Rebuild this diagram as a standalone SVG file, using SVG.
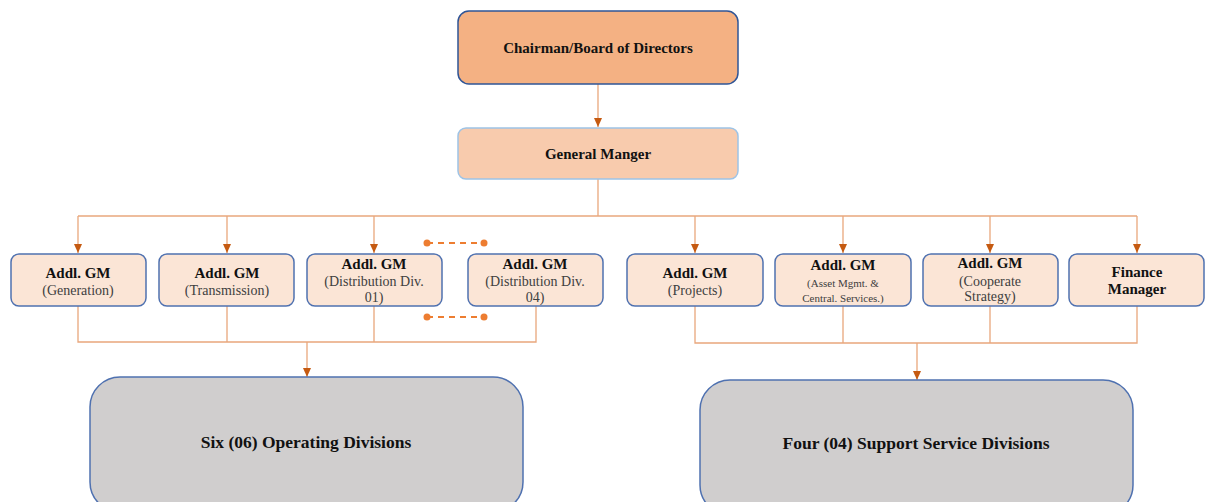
<svg xmlns="http://www.w3.org/2000/svg" width="1205" height="502" viewBox="0 0 1205 502">
<defs>
<marker id="arr" markerWidth="10" markerHeight="8" refX="9" refY="4" orient="auto" markerUnits="userSpaceOnUse">
<path d="M0,0 L9,4 L0,8 z" fill="#C55A11"/>
</marker>
<marker id="dot" markerWidth="8" markerHeight="8" refX="4" refY="4" markerUnits="userSpaceOnUse">
<circle cx="4" cy="4" r="3.5" fill="#ED7D31"/>
</marker>
<style>
.lvl rect{fill:#FBE5D6;stroke:#4F71B0;stroke-width:1.5}
.big rect{fill:#D0CECE;stroke:#4F71B0;stroke-width:1.5}
text{font-family:"Liberation Serif","Times New Roman",serif;text-anchor:middle}
.b{font-weight:bold;fill:#111}
.s{fill:#404040;font-size:14px}
.s.sm{font-size:11px}
.c{fill:none;stroke:#E9A77C;stroke-width:1.3}
.a{fill:none;stroke:#E9A77C;stroke-width:1.3;marker-end:url(#arr)}
.d{fill:none;stroke:#ED7D31;stroke-width:2;stroke-dasharray:6,5;marker-start:url(#dot);marker-end:url(#dot)}
</style>
</defs>
<rect width="1205" height="502" fill="#fff"/>
<g id="connectors">
<line class="a" x1="598" y1="84" x2="598" y2="127"/>
<line class="c" x1="598" y1="179" x2="598" y2="216"/>
<line class="c" x1="78" y1="216" x2="1137" y2="216"/>
<line class="a" x1="78" y1="216" x2="78" y2="253"/>
<line class="a" x1="227" y1="216" x2="227" y2="253"/>
<line class="a" x1="374" y1="216" x2="374" y2="253"/>
<line class="a" x1="695" y1="216" x2="695" y2="253"/>
<line class="a" x1="843" y1="216" x2="843" y2="253"/>
<line class="a" x1="990" y1="216" x2="990" y2="253"/>
<line class="a" x1="1137" y1="216" x2="1137" y2="253"/>
<path class="c" d="M78,306 V342 H536 V306 M227,306 V342 M374,306 V342"/>
<line class="a" x1="307" y1="342" x2="307" y2="377"/>
<path class="c" d="M695,306 V343 H1137 V306 M843,306 V343 M990,306 V343"/>
<line class="a" x1="917" y1="343" x2="917" y2="380"/>
<line class="d" x1="427" y1="243" x2="484" y2="243"/>
<line class="d" x1="427" y1="317" x2="484" y2="317"/>
</g>
<g id="chairman">
<rect x="458" y="11" width="280" height="73" rx="11" fill="#F4B183" stroke="#2F5597" stroke-width="1.5"/>
<text class="b" x="598" y="53" font-size="15">Chairman/Board of Directors</text>
</g>
<g id="gm">
<rect x="458" y="128" width="280" height="51" rx="8" fill="#F8CBAD" stroke="#9DC3E6" stroke-width="1.5"/>
<text class="b" x="598" y="159" font-size="15">General Manger</text>
</g>
<g id="gen" class="lvl">
<rect x="11" y="254" width="135" height="52" rx="8"/>
<text class="b" x="78" y="278" font-size="15">Addl. GM</text>
<text class="s" x="78" y="295">(Generation)</text>
</g>
<g id="trans" class="lvl">
<rect x="159" y="254" width="135" height="52" rx="8"/>
<text class="b" x="227" y="278" font-size="15">Addl. GM</text>
<text class="s" x="227" y="295">(Transmission)</text>
</g>
<g id="dist01" class="lvl">
<rect x="307" y="254" width="135" height="52" rx="8"/>
<text class="b" x="374" y="269" font-size="15">Addl. GM</text>
<text class="s" x="374" y="286">(Distribution Div.</text>
<text class="s" x="374" y="302">01)</text>
</g>
<g id="dist04" class="lvl">
<rect x="468" y="254" width="135" height="52" rx="8"/>
<text class="b" x="535" y="269" font-size="15">Addl. GM</text>
<text class="s" x="535" y="286">(Distribution Div.</text>
<text class="s" x="535" y="302">04)</text>
</g>
<g id="projects" class="lvl">
<rect x="627" y="254" width="136" height="52" rx="8"/>
<text class="b" x="695" y="278" font-size="15">Addl. GM</text>
<text class="s" x="695" y="295">(Projects)</text>
</g>
<g id="asset" class="lvl">
<rect x="775" y="254" width="136" height="52" rx="8"/>
<text class="b" x="843" y="270" font-size="15">Addl. GM</text>
<text class="s sm" x="843" y="287">(Asset Mgmt. &amp;</text>
<text class="s sm" x="843" y="302">Central. Services.)</text>
</g>
<g id="strategy" class="lvl">
<rect x="923" y="254" width="135" height="52" rx="8"/>
<text class="b" x="990" y="268" font-size="15">Addl. GM</text>
<text class="s" x="990" y="286">(Cooperate</text>
<text class="s" x="990" y="301">Strategy)</text>
</g>
<g id="finance" class="lvl">
<rect x="1069" y="254" width="135" height="52" rx="8"/>
<text class="b" x="1137" y="277" font-size="15">Finance</text>
<text class="b" x="1137" y="294" font-size="15">Manager</text>
</g>
<g id="operating" class="big">
<rect x="90" y="377" width="433" height="135" rx="30"/>
<text class="b" x="306" y="448" font-size="17.5">Six (06) Operating Divisions</text>
</g>
<g id="support" class="big">
<rect x="700" y="380" width="433" height="135" rx="30"/>
<text class="b" x="916" y="449" font-size="17.5">Four (04) Support Service Divisions</text>
</g>
</svg>
